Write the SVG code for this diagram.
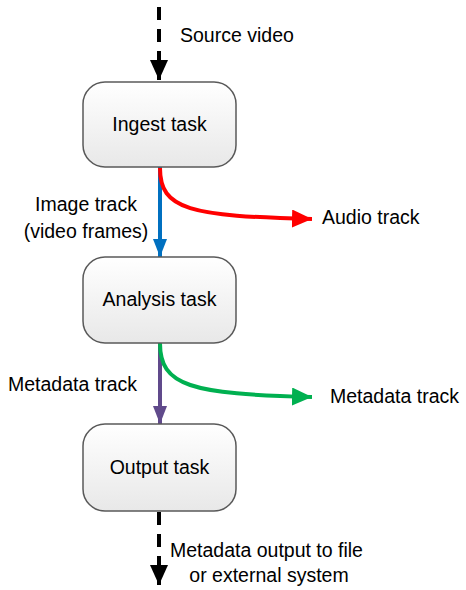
<svg xmlns="http://www.w3.org/2000/svg" width="466" height="590" viewBox="0 0 466 590">
<defs>
<linearGradient id="g" x1="0" y1="0" x2="0" y2="1"><stop offset="0" stop-color="#ffffff"/><stop offset="1" stop-color="#e8e8e8"/></linearGradient>
<marker id="ak" markerWidth="20" markerHeight="18" viewBox="0 0 20 18" refX="20" refY="9" orient="auto" markerUnits="userSpaceOnUse"><path d="M0,0 L20,9 L0,18 Z" fill="#000"/></marker>
<marker id="ar" markerWidth="20" markerHeight="18" viewBox="0 0 20 18" refX="20" refY="9" orient="auto" markerUnits="userSpaceOnUse"><path d="M0,0 L20,9 L0,18 Z" fill="#ff0000"/></marker>
<marker id="ab" markerWidth="18" markerHeight="14" viewBox="0 0 18 14" refX="18" refY="7" orient="auto" markerUnits="userSpaceOnUse"><path d="M0,0 L18,7 L0,14 Z" fill="#0070c0"/></marker>
<marker id="ag" markerWidth="20" markerHeight="18" viewBox="0 0 20 18" refX="20" refY="9" orient="auto" markerUnits="userSpaceOnUse"><path d="M0,0 L20,9 L0,18 Z" fill="#00b050"/></marker>
<marker id="ap" markerWidth="18" markerHeight="14" viewBox="0 0 18 14" refX="18" refY="7" orient="auto" markerUnits="userSpaceOnUse"><path d="M0,0 L18,7 L0,14 Z" fill="#604a8b"/></marker>
</defs>
<style>
.box{fill:url(#g);stroke:#595959;stroke-width:1.5}
text{font-family:"Liberation Sans",Arial,sans-serif;font-size:19.5px;fill:#000}
.c{text-anchor:middle}
.dash{stroke:#000;stroke-width:4;stroke-dasharray:13 9;fill:none}
</style>
<g id="connectors" fill="none">
<path class="dash" d="M159,7 V80" marker-end="url(#ak)"/>
<path d="M160,167 V257" stroke="#0070c0" stroke-width="4" marker-end="url(#ab)"/>
<path d="M160,168 C160,210 190,216 312,219" stroke="#ff0000" stroke-width="4" marker-end="url(#ar)"/>
<path d="M160,343 V424" stroke="#604a8b" stroke-width="4" marker-end="url(#ap)"/>
<path d="M160,343 C160,386 190,394 312,397" stroke="#00b050" stroke-width="4" marker-end="url(#ag)"/>
<path class="dash" d="M159,512 V585" marker-end="url(#ak)"/>
</g>
<g id="ingest"><rect class="box" x="83" y="82" width="153" height="85" rx="22"/><text class="c" x="159.5" y="131">Ingest task</text></g>
<g id="analysis"><rect class="box" x="83" y="257" width="153" height="86" rx="22"/><text class="c" x="159.5" y="306">Analysis task</text></g>
<g id="output"><rect class="box" x="83" y="424" width="153" height="87" rx="22"/><text class="c" x="159.5" y="474">Output task</text></g>
<g id="labels">
<text x="180" y="42">Source video</text>
<text class="c" x="86" y="211">Image track</text>
<text class="c" x="86" y="238">(video frames)</text>
<text x="322" y="224">Audio track</text>
<text x="8" y="391">Metadata track</text>
<text x="330" y="403">Metadata track</text>
<text x="170" y="557">Metadata output to file</text>
<text class="c" x="269" y="582">or external system</text>
</g>
</svg>
